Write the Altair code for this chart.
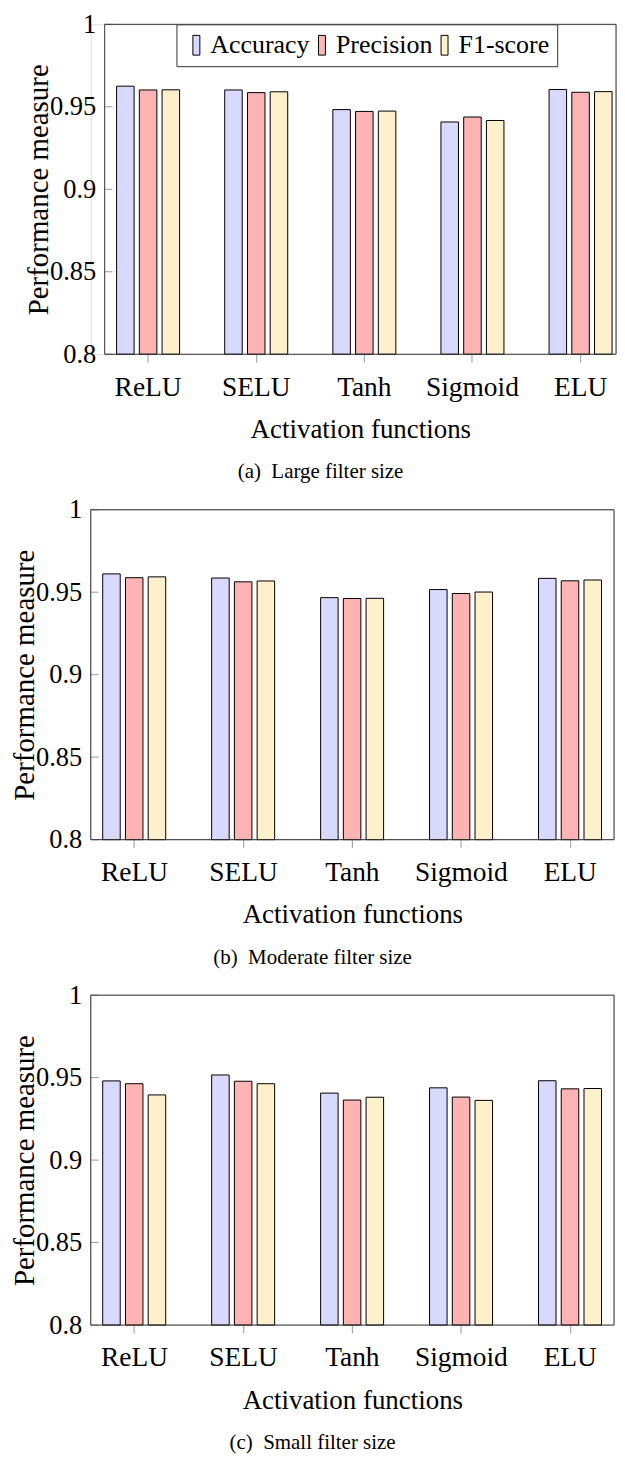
import altair as alt
import pandas as pd

activations = ["ReLU", "SELU", "Tanh", "Sigmoid", "ELU"]
metrics = ["Accuracy", "Precision", "F1-score"]

large_accuracy = [0.9625, 0.9602, 0.9483, 0.9408, 0.9605]
large_precision = [0.9602, 0.9586, 0.9472, 0.9438, 0.9588]
large_f1 = [0.9603, 0.9591, 0.9474, 0.9417, 0.9592]

moderate_accuracy = [0.9611, 0.9586, 0.9467, 0.9516, 0.9584]
moderate_precision = [0.9588, 0.9563, 0.9462, 0.9492, 0.9569]
moderate_f1 = [0.9593, 0.9568, 0.9463, 0.9501, 0.9574]

small_accuracy = [0.9480, 0.9516, 0.9406, 0.9438, 0.9481]
small_precision = [0.9463, 0.9478, 0.9364, 0.9382, 0.9432]
small_f1 = [0.9395, 0.9463, 0.9381, 0.9362, 0.9434]

y_ticks = [0.8, 0.85, 0.9, 0.95, 1.0]
captions = [
    "(a)\u00a0\u00a0Large filter size",
    "(b)\u00a0\u00a0Moderate filter size",
    "(c)\u00a0\u00a0Small filter size",
]
colors = ["#d9d9ff", "#ffb3b3", "#fff0cc"]

FONT = "Liberation Serif"
H = 331


def panel(acc, prec, f1, caption, width, inset=0, xscale=None, legend_x=72):
    rows = []
    for i, act in enumerate(activations):
        for m, vals in zip(metrics, [acc, prec, f1]):
            rows.append({"Activation": act, "Metric": m, "Value": vals[i]})
    df = pd.DataFrame(rows)
    yscale = alt.Scale(domain=[0.8, 1.0], zero=False, nice=False)
    yaxis = alt.Axis(
        values=y_ticks,
        format="~g",
        ticks=False,
        domain=False,
        grid=False,
        offset=-inset,
        labelFont=FONT,
        labelFontSize=26.5,
        labelColor="black",
        labelPadding=9,
        title="Performance measure",
        titleFont=FONT,
        titleFontSize=29,
        titleFontWeight="normal",
        titleColor="black",
        titlePadding=-4,
    )
    xaxis = alt.Axis(
        title="Activation functions",
        labelAngle=0,
        labelFont=FONT,
        labelFontSize=27.5,
        labelColor="black",
        labelPadding=11,
        tickSize=8,
        tickColor="#999999",
        domain=False,
        titleFont=FONT,
        titleFontSize=27,
        titleFontWeight="normal",
        titleColor="black",
        titlePadding=16,
        titleX=(inset + width) / 2,
    )

    bars = alt.Chart(df).mark_bar(stroke="black", strokeWidth=1, opacity=1).encode(
        x=alt.X("Activation:N", sort=activations, scale=xscale, axis=xaxis),
        xOffset=alt.XOffset(
            "Metric:N", sort=metrics, scale=alt.Scale(paddingInner=0.23, paddingOuter=0.115)
        ),
        y=alt.Y("Value:Q", scale=yscale, axis=yaxis),
        y2=alt.datum(0.8),
        color=alt.Color(
            "Metric:N",
            sort=metrics,
            scale=alt.Scale(domain=metrics, range=colors),
            legend=alt.Legend(
                title=None,
                orient="none",
                legendX=legend_x + inset,
                legendY=0,
                direction="horizontal",
                fillColor="white",
                strokeColor="#333333",
                padding=8,
                labelFont=FONT,
                labelFontSize=26,
                labelColor="black",
                labelOffset=0,
                columnPadding=0,
                symbolType="M-1.0,-2.2H0.55V2.2H-1.0Z",
                symbolSize=81,
                symbolStrokeColor="black",
                symbolStrokeWidth=1,
                symbolOpacity=1,
            ),
        ),
    )

    ticks_df = pd.DataFrame({"v": y_ticks})
    yt = alt.Chart(ticks_df).mark_rule(color="#999999", strokeWidth=1).encode(
        y=alt.Y("v:Q", scale=yscale, axis=yaxis),
        x=alt.value(inset),
        x2=alt.value(inset + 8),
    )
    frame = alt.Chart(pd.DataFrame({"f": [0]})).mark_rect(
        fillOpacity=0, stroke="#333333", strokeWidth=1
    ).encode(
        x=alt.value(inset), x2=alt.value(width), y=alt.value(0), y2=alt.value(H)
    )

    return alt.layer(bars, yt, frame).properties(
        width=width,
        height=H,
        title=alt.TitleParams(
            text=caption,
            orient="bottom",
            anchor="middle",
            frame="bounds",
            font=FONT,
            fontSize=21,
            fontWeight="normal",
            color="black",
            offset=19,
        ),
    )


A_W = 527
A_INSET = 14
scale_a = alt.Scale(range=[A_INSET, 535], paddingInner=0.369, paddingOuter=0.086)
scale_bc = alt.Scale(paddingInner=0.369, paddingOuter=0.086)

pa = panel(large_accuracy, large_precision, large_f1, captions[0], A_W,
           inset=A_INSET, xscale=scale_a)
pb = panel(moderate_accuracy, moderate_precision, moderate_f1, captions[1], 525,
           xscale=scale_bc)
pc = panel(small_accuracy, small_precision, small_f1, captions[2], 525,
           xscale=scale_bc)

chart = (
    alt.vconcat(pa, pb, pc, spacing=13)
    .properties(padding={"left": 2, "top": 0, "right": 0, "bottom": 0})
    .configure_view(stroke=None)
    .configure(background="white")
)

chart.save("out.html", embed_options={"renderer": "svg", "actions": False})
